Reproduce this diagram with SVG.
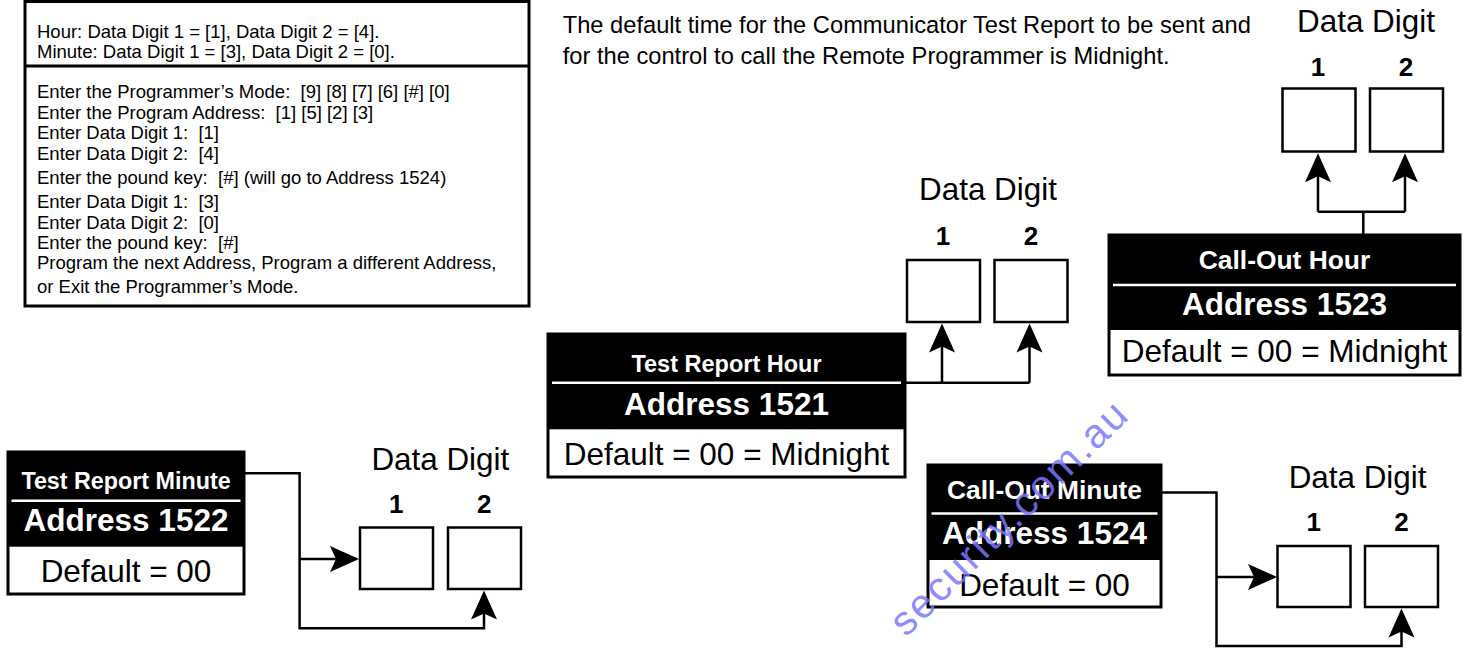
<svg xmlns="http://www.w3.org/2000/svg" xmlns:xlink="http://www.w3.org/1999/xlink" width="1465" height="648" viewBox="0 0 1465 648">
<style>
text{font-family:"Liberation Sans",Arial,Helvetica,sans-serif}
.box{fill:#fff;stroke:#000;stroke-width:3}
.blk{fill:#000}
.wl{stroke:#fff;stroke-width:2.5}
.ti{font-weight:bold;fill:#fff;text-anchor:middle}
.ad{font-weight:bold;fill:#fff;text-anchor:middle;font-size:31.5px}
.df{fill:#000;text-anchor:middle;font-size:31.5px}
.dd{font-size:31.4px;text-anchor:middle}
.num{font-weight:bold;font-size:26px;text-anchor:middle}
.cell{fill:#fff;stroke:#000;stroke-width:2.5}
.conn{fill:none;stroke:#000;stroke-width:2.5}
.ins{font-size:18.5px}
.note{font-size:23.7px}
</style>
<defs>
<path id="ah" d="M0,0 L-29,-13 L-23,0 L-29,13 Z" fill="#000"/>
</defs>
<rect width="1465" height="648" fill="#fff"/>

<g id="instructions">
<rect class="box" x="25" y="1.5" width="504" height="304.5"/>
<line x1="25" y1="66" x2="529" y2="66" stroke="#000" stroke-width="3"/>
<g class="ins">
<text x="37" y="38">Hour: Data Digit 1 = [1], Data Digit 2 = [4].</text>
<text x="37" y="57.5">Minute: Data Digit 1 = [3], Data Digit 2 = [0].</text>
<text x="37" y="98">Enter the Programmer’s Mode:&#160; [9] [8] [7] [6] [#] [0]</text>
<text x="37" y="118.5">Enter the Program Address:&#160; [1] [5] [2] [3]</text>
<text x="37" y="139">Enter Data Digit 1:&#160; [1]</text>
<text x="37" y="160">Enter Data Digit 2:&#160; [4]</text>
<text x="37" y="184">Enter the pound key:&#160; [#] (will go to Address 1524)</text>
<text x="37" y="207.5">Enter Data Digit 1:&#160; [3]</text>
<text x="37" y="228.5">Enter Data Digit 2:&#160; [0]</text>
<text x="37" y="249">Enter the pound key:&#160; [#]</text>
<text x="37" y="269">Program the next Address, Program a different Address,</text>
<text x="37" y="293">or Exit the Programmer’s Mode.</text>
</g>
</g>

<g id="note" class="note">
<text x="562.7" y="33">The default time for the Communicator Test Report to be sent and</text>
<text x="562.7" y="63.5">for the control to call the Remote Programmer is Midnight.</text>
</g>

<g id="n1521">
<rect class="box" x="548" y="334" width="357" height="143"/>
<rect class="blk" x="548" y="334" width="357" height="95.3"/>
<line class="wl" x1="552" y1="382.7" x2="901" y2="382.7"/>
<text class="ti" x="726.5" y="371.7" font-size="23.5">Test Report Hour</text>
<text class="ad" x="726.5" y="415">Address 1521</text>
<text class="df" x="726.5" y="465" font-size="32">Default = 00 = Midnight</text>
</g>
<g id="d1521">
<text class="dd" x="988" y="200">Data Digit</text>
<text class="num" x="943" y="245">1</text>
<text class="num" x="1031" y="245">2</text>
<rect class="cell" x="907" y="260" width="73" height="62"/>
<rect class="cell" x="994.5" y="260" width="73" height="62"/>
</g>

<g id="n1523">
<rect class="box" x="1109" y="235" width="351" height="140"/>
<rect class="blk" x="1109" y="235" width="351" height="95"/>
<line class="wl" x1="1113" y1="285" x2="1456" y2="285"/>
<text class="ti" x="1284.5" y="269.3" font-size="26.4">Call-Out Hour</text>
<text class="ad" x="1284.5" y="315">Address 1523</text>
<text class="df" x="1284.5" y="361.7">Default = 00 = Midnight</text>
</g>
<g id="d1523">
<text class="dd" x="1366" y="32">Data Digit</text>
<text class="num" x="1318" y="76">1</text>
<text class="num" x="1406" y="76">2</text>
<rect class="cell" x="1282.5" y="88.5" width="73" height="63"/>
<rect class="cell" x="1370" y="88.5" width="73" height="63"/>
</g>

<g id="n1522">
<rect class="box" x="8" y="452" width="236" height="142"/>
<rect class="blk" x="8" y="452" width="236" height="94.7"/>
<line class="wl" x1="11.5" y1="500.7" x2="240.5" y2="500.7"/>
<text class="ti" x="126" y="489.3" font-size="23.3">Test Report Minute</text>
<text class="ad" x="126" y="530.7">Address 1522</text>
<text class="df" x="126" y="581.7" font-size="31">Default = 00</text>
</g>
<g id="d1522">
<text class="dd" x="440.3" y="470">Data Digit</text>
<text class="num" x="396.3" y="512.7">1</text>
<text class="num" x="484.2" y="512.7">2</text>
<rect class="cell" x="360" y="527.5" width="73" height="61.5"/>
<rect class="cell" x="448" y="527.5" width="73" height="61.5"/>
</g>

<g id="n1524">
<rect class="box" x="928" y="465" width="233" height="142"/>
<rect class="blk" x="928" y="465" width="233" height="95"/>
<line class="wl" x1="931.5" y1="513.5" x2="1157.5" y2="513.5"/>
<text class="ti" x="1044.5" y="499.3" font-size="26.4">Call-Out Minute</text>
<text class="ad" x="1044.5" y="544">Address 1524</text>
<text class="df" x="1044.5" y="595.5">Default = 00</text>
</g>
<g id="d1524">
<text class="dd" x="1357.6" y="488.3">Data Digit</text>
<text class="num" x="1313.8" y="530.7">1</text>
<text class="num" x="1401.4" y="530.7">2</text>
<rect class="cell" x="1277.5" y="546" width="73" height="61"/>
<rect class="cell" x="1365" y="546" width="73" height="61"/>
</g>

<g id="connectors">
<path class="conn" d="M905,382.7 H1029.5 M942,382.7 V345 M1029.5,382.7 V345"/>
<use xlink:href="#ah" transform="translate(942,323.5) rotate(-90)"/>
<use xlink:href="#ah" transform="translate(1029.5,323.5) rotate(-90)"/>

<path class="conn" d="M1363.3,235 V211.7 M1318,211.7 H1405 M1318,211.7 V175 M1405,211.7 V175"/>
<use xlink:href="#ah" transform="translate(1318,153.3) rotate(-90)"/>
<use xlink:href="#ah" transform="translate(1405,153.3) rotate(-90)"/>

<path class="conn" d="M244,473.3 H299.6 V628.3 H484 V612 M299.6,559 H337"/>
<use xlink:href="#ah" transform="translate(359,559)"/>
<use xlink:href="#ah" transform="translate(484,590.5) rotate(-90)"/>

<path class="conn" d="M1161,492.5 H1216.5 V646 H1401.5 V630 M1216.5,577 H1255"/>
<use xlink:href="#ah" transform="translate(1277,577)"/>
<use xlink:href="#ah" transform="translate(1401.5,608.5) rotate(-90)"/>
</g>

<text id="watermark" x="0" y="0" transform="translate(906,638) rotate(-44.5)" font-size="41" fill="#7878ff" fill-opacity="0.85" textLength="314" lengthAdjust="spacing">security.com.au</text>
</svg>
